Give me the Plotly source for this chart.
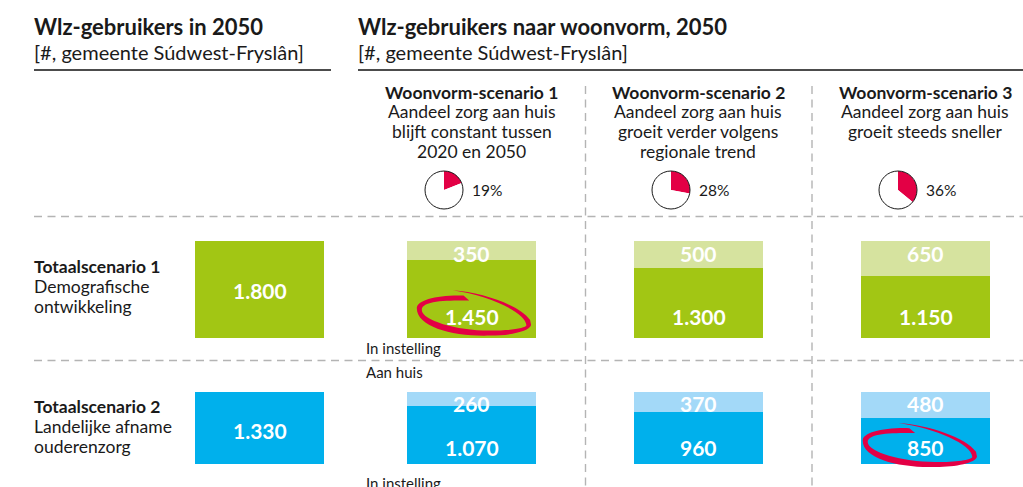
import plotly.graph_objects as go

# ---------- data ----------
kolommen = ["Totaal", "Woonvorm-scenario 1", "Woonvorm-scenario 2", "Woonvorm-scenario 3"]
totaal_rij1 = 1800
totaal_rij2 = 1330
in_instelling_rij1 = [1450, 1300, 1150]
aan_huis_rij1 = [350, 500, 650]
in_instelling_rij2 = [1070, 960, 850]
aan_huis_rij2 = [260, 370, 480]
aandeel_zorg_aan_huis = [19, 28, 36]
scenario_teksten = [
    ["Aandeel zorg aan huis", "blijft constant tussen", "2020 en 2050"],
    ["Aandeel zorg aan huis", "groeit verder volgens", "regionale trend"],
    ["Aandeel zorg aan huis", "groeit steeds sneller"],
]

# ---------- style / layout ----------
W, H = 1023, 487
FONT = "Lato"
INK = "#1a1a1a"
GROEN, GROEN_L = "#a2c614", "#d6e39f"
BLAUW, BLAUW_L = "#00b0ec", "#a3d9f8"
ROOD = "#e30045"
GRIJS = "#b4b4b4"

def X(px): return px / W
def Y(py): return 1 - py / H

kolom_x = [(195, 324), (407, 536), (634, 763), (861, 990)]
rij_y = [(241, 338), (392, 464)]
pie_c = [(444, 190), (671, 190), (898, 190)]
kolom_mid = [471.5, 698, 925]

fig = go.Figure()
annotations, shapes = [], []

def fmt(v):
    return f"{v:,}".replace(",", ".")

def label(px, py, text, size=17.5, bold=False, anchor="left", color=INK):
    annotations.append(dict(
        xref="paper", yref="paper", x=X(px - 2 if anchor == "left" else px), y=Y(py),
        text=f"<b>{text}</b>" if bold else text,
        showarrow=False, xanchor=anchor, yanchor="middle",
        font=dict(family=FONT, size=size, color=color), align=anchor))

def bar(col, row, value, color):
    fig.add_trace(go.Bar(
        x=[0], y=[value], width=[1], marker=dict(color=color, line=dict(width=0)),
        xaxis=f"x{col + 1}", yaxis=f"y{row + 1}", hoverinfo="skip", showlegend=False))

def bar_label(col, row, y, value, yshift, size=21):
    annotations.append(dict(
        xref=f"x{col + 1}", yref=f"y{row + 1}", x=0, y=y, text=f"<b>{fmt(value)}</b>",
        showarrow=False, yshift=yshift, xanchor="center", yanchor="middle",
        font=dict(family=FONT, size=size, color="white")))

rijen = [
    (totaal_rij1, in_instelling_rij1, aan_huis_rij1, GROEN, GROEN_L),
    (totaal_rij2, in_instelling_rij2, aan_huis_rij2, BLAUW, BLAUW_L),
]
for r, (tot, inst, huis, kleur, licht) in enumerate(rijen):
    bar(0, r, tot, kleur)
    bar_label(0, r, tot / 2, tot, -1 if r == 0 else -2)
    for c in range(3):
        bar(c + 1, r, inst[c], kleur)
        bar(c + 1, r, huis[c], licht)
        bar_label(c + 1, r, 0, inst[c], 22 if r == 0 else 17)
        bar_label(c + 1, r, tot, huis[c], -13 if r == 0 else -11)

layout_axes = {}
for i, (a, b) in enumerate(kolom_x):
    layout_axes[f"xaxis{i + 1}"] = dict(domain=[X(a), X(b)], range=[-0.5, 0.5], visible=False,
                                        fixedrange=True, anchor="y1")
for i, ((top, bottom), tot) in enumerate(zip(rij_y, [totaal_rij1, totaal_rij2])):
    layout_axes[f"yaxis{i + 1}"] = dict(domain=[Y(bottom), Y(top)], range=[0, tot], visible=False,
                                        fixedrange=True, anchor="x1")

# pies
for (cx, cy), pct in zip(pie_c, aandeel_zorg_aan_huis):
    fig.add_trace(go.Pie(
        values=[pct, 100 - pct], sort=False, direction="clockwise", rotation=0,
        marker=dict(colors=[ROOD, "white"], line=dict(width=0)), textinfo="none",
        hoverinfo="skip", showlegend=False,
        domain=dict(x=[X(cx - 19), X(cx + 19)], y=[Y(cy + 19), Y(cy - 19)])))
    shapes.append(dict(type="circle", xref="paper", yref="paper", x0=X(cx - 19), x1=X(cx + 19),
                       y0=Y(cy + 19), y1=Y(cy - 19), line=dict(color=INK, width=1), layer="above"))

# rules
for a, b in [(34, 331), (358, 1023)]:
    shapes.append(dict(type="line", xref="paper", yref="paper", x0=X(a), x1=X(b), y0=Y(70), y1=Y(70),
                       line=dict(color="#111111", width=1.3)))
for py in (216.5, 360.5):
    shapes.append(dict(type="line", xref="paper", yref="paper", x0=X(34), x1=X(1023), y0=Y(py), y1=Y(py),
                       line=dict(color=GRIJS, width=1.4, dash="8px,5.5px")))
for px in (585.5, 812):
    shapes.append(dict(type="line", xref="paper", yref="paper", x0=X(px), x1=X(px), y0=Y(86), y1=Y(487),
                       line=dict(color=GRIJS, width=1.4, dash="8px,5.5px")))

# hand-drawn emphasis rings
def ring(cx, cy, sy=1.0):
    segs = [
        ("M", [(-21, -23)]),
        ("C", [(9.7, -20.7), (46, -8), (56.3, 6.7)]),
        ("L", [(57.3, 11.7)]),
        ("C", [(56, 18), (36, 22.3), (16.3, 22.3)]),
        ("C", [(-20, 23.5), (-57, 14), (-57, -5)]),
        ("C", [(-57, -13), (-37, -18.5), (-10.3, -17.7)]),
        ("L", [(-4.6, -12.7)]),
        ("C", [(-25, -12.7), (-52, -13), (-52, -3.3)]),
        ("C", [(-52, 7), (-17, 17.5), (16.3, 17.3)]),
        ("C", [(36, 17.3), (52, 15), (52.6, 12)]),
        ("C", [(52, -1), (16, -17.4), (-21, -23)]),
    ]
    d = ""
    for cmd, pts in segs:
        d += cmd + " ".join(f"{X(cx + x):.5f},{Y(cy + y * sy):.5f}" for x, y in pts) + " "
    shapes.append(dict(type="path", xref="paper", yref="paper", path=d + "Z",
                       fillcolor=ROOD, line=dict(width=0), layer="above"))

ring(473.8, 313.3)
ring(919.7, 445.3, 0.97)

# titles
label(34, 26, "Wlz-gebruikers in 2050", 22, True)
label(34, 52, "[#, gemeente Súdwest-Fryslân]", 20)
label(358, 26, "Wlz-gebruikers naar woonvorm, 2050", 22, True)
label(358, 52, "[#, gemeente Súdwest-Fryslân]", 20)

# scenario headers
for i, mid in enumerate(kolom_mid):
    label(mid, 92, kolommen[i + 1], 17.5, True, "center")
    for j, line in enumerate(scenario_teksten[i]):
        label(mid, 111 + 20 * j, line, 17.5, False, "center")
    label(pie_c[i][0] + 28, 190, f"{aandeel_zorg_aan_huis[i]}%", 15.5)

# row labels
label(34, 266, "Totaalscenario 1", 17.5, True)
label(34, 286, "Demografische")
label(34, 306, "ontwikkeling")
label(34, 406, "Totaalscenario 2", 17.5, True)
label(34, 426, "Landelijke afname")
label(34, 446, "ouderenzorg")

label(366, 348, "In instelling", 15)
label(366, 372, "Aan huis", 15)
label(366, 483, "In instelling", 15)

fig.update_layout(
    width=W, height=H, margin=dict(l=0, r=0, t=0, b=0), autosize=False,
    paper_bgcolor="white", plot_bgcolor="white", barmode="stack", bargap=0,
    annotations=annotations, shapes=shapes, font=dict(family=FONT, color=INK),
    **layout_axes)
fig.write_html("out.html", config=dict(displayModeBar=False),
               post_script="document.body.style.margin='0';document.body.style.overflow='hidden';")
